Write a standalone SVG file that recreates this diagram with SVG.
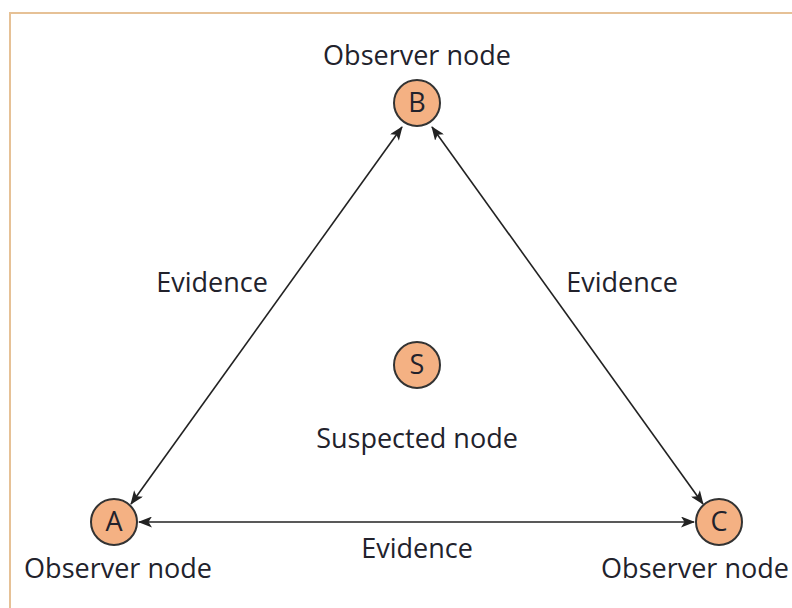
<svg xmlns="http://www.w3.org/2000/svg" width="792" height="608" viewBox="0 0 792 608">
<style>
text{font-family:"Open Sans",Lato,"Liberation Sans",sans-serif;fill:#22222c;font-size:27px;text-anchor:middle}
.n circle{fill:#f4b183;stroke:#333;stroke-width:2}
.c line{stroke:#222;stroke-width:1.6}
</style>
<defs>
<marker id="ah" viewBox="0 0 14 11" refX="13" refY="5.5" markerWidth="14" markerHeight="11" markerUnits="userSpaceOnUse" orient="auto-start-reverse">
<path d="M0,0 L14,5.5 L0,11 L3.5,5.5 Z" fill="#222"/>
</marker>
</defs>
<rect width="792" height="608" fill="#fff"/>
<path d="M10,608 V13 H792" fill="none" stroke="#e6c196" stroke-width="2"/>
<g class="c" id="connectors">
<line x1="402" y1="127" x2="131" y2="504" marker-start="url(#ah)" marker-end="url(#ah)"/>
<line x1="432" y1="127" x2="703" y2="504" marker-start="url(#ah)" marker-end="url(#ah)"/>
<line x1="139" y1="522" x2="694" y2="522" marker-start="url(#ah)" marker-end="url(#ah)"/>
</g>
<g id="labels">
<text x="212" y="292">Evidence</text>
<text x="622" y="292">Evidence</text>
<text x="417" y="558">Evidence</text>
</g>
<g class="n" id="nodeB">
<circle cx="417" cy="103" r="23"/>
<text x="417" y="112">B</text>
<text x="417" y="65">Observer node</text>
</g>
<g class="n" id="nodeA">
<circle cx="114" cy="522" r="23"/>
<text x="114" y="531">A</text>
<text x="118" y="578">Observer node</text>
</g>
<g class="n" id="nodeC">
<circle cx="719" cy="522" r="23"/>
<text x="719" y="531">C</text>
<text x="695" y="578">Observer node</text>
</g>
<g class="n" id="nodeS">
<circle cx="417" cy="365" r="23"/>
<text x="417" y="374">S</text>
<text x="417" y="448">Suspected node</text>
</g>
</svg>
